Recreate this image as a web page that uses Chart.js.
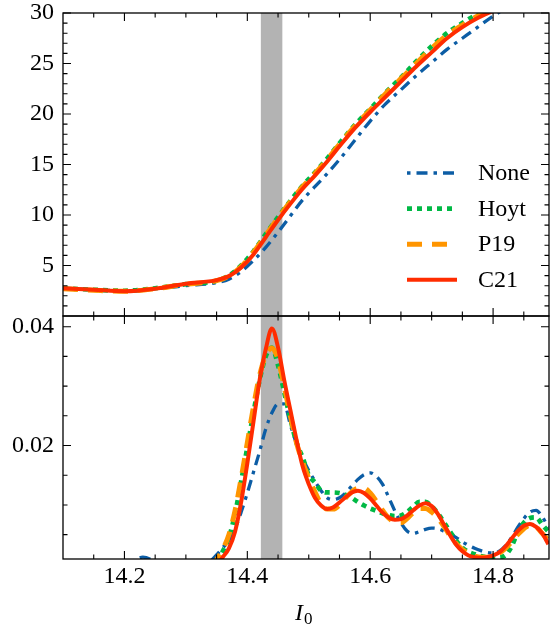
<!DOCTYPE html>
<html>
<head>
<meta charset="utf-8">
<script src="https://cdn.jsdelivr.net/npm/chart.js@4.4.0/dist/chart.umd.min.js"></script>
<style>
  body { margin: 0; background: #fff; }
</style>
</head>
<body>
<canvas id="chart" width="551" height="625"></canvas>
<script>
// upper panel: sampled curves
const xTop = [14.10, 14.15, 14.20, 14.25, 14.30, 14.35, 14.37, 14.39, 14.41, 14.43, 14.45, 14.47, 14.49, 14.51,
  14.53, 14.55, 14.575, 14.60, 14.625, 14.65, 14.675, 14.70, 14.725, 14.75, 14.775, 14.80, 14.85, 14.89];
const noneTop = [2.75, 2.6, 2.5, 2.7, 3.0, 3.3, 3.65, 4.4, 5.5, 6.8, 8.3, 9.9, 11.5, 12.8,
  14.1, 15.5, 17.4, 19.3, 21.0, 22.4, 23.8, 25.1, 26.4, 27.5, 28.6, 29.7, 31.5, 32.8];
const hoytTop = [2.75, 2.6, 2.5, 2.75, 3.15, 3.5, 4.0, 5.0, 6.4, 8.1, 9.8, 11.4, 12.9, 14.2,
  15.6, 17.1, 18.9, 20.5, 22.1, 23.6, 25.2, 26.7, 28.0, 29.0, 29.9, 30.6, 31.6, 32.3];
const p19Top = [2.7, 2.55, 2.45, 2.7, 3.15, 3.5, 3.95, 4.9, 6.3, 8.0, 9.7, 11.3, 12.8, 14.1,
  15.5, 17.0, 18.8, 20.4, 22.0, 23.5, 25.0, 26.5, 27.8, 28.8, 29.7, 30.4, 31.4, 32.1];
const c21Top = [2.75, 2.6, 2.45, 2.7, 3.2, 3.55, 3.95, 4.8, 6.1, 7.8, 9.5, 11.1, 12.6, 13.9,
  15.3, 16.8, 18.6, 20.2, 21.7, 23.2, 24.7, 26.1, 27.5, 28.6, 29.5, 30.2, 31.2, 31.9];

// lower panel
const xBottom = [14.10, 14.15, 14.20, 14.23, 14.26, 14.30, 14.33,
  14.34, 14.35, 14.36, 14.37, 14.38, 14.39, 14.40, 14.41, 14.42, 14.43,
  14.44, 14.45, 14.46, 14.47, 14.48, 14.49, 14.50, 14.51, 14.52, 14.53,
  14.54, 14.55, 14.56, 14.57, 14.58, 14.59, 14.60, 14.61, 14.62, 14.63,
  14.64, 14.65, 14.66, 14.67, 14.68, 14.69, 14.70, 14.71, 14.72, 14.73,
  14.74, 14.75, 14.76, 14.77, 14.78, 14.79, 14.80, 14.81, 14.82, 14.83,
  14.84, 14.85, 14.86, 14.87, 14.88, 14.89];
const noneBottom = [-0.0020, -0.0012, -0.0002, 0.0012, -0.0001, -0.0015, -0.0004,
  0.0005, 0.0016, 0.0028, 0.0040, 0.0060, 0.0088, 0.0120, 0.0155, 0.0190, 0.0228,
  0.0255, 0.0270, 0.0270, 0.0235, 0.0203, 0.0178, 0.0158, 0.0140, 0.0124, 0.0112,
  0.0109, 0.0112, 0.0120, 0.0132, 0.0143, 0.0151, 0.0154, 0.0148, 0.0135, 0.0113,
  0.0090, 0.0070, 0.0056, 0.0052, 0.0055, 0.0059, 0.0061, 0.0060, 0.0056, 0.0051,
  0.0045, 0.0038, 0.0032, 0.0027, 0.0023, 0.0020, 0.0019, 0.0022, 0.0031, 0.0045,
  0.0062, 0.0077, 0.0088, 0.0091, 0.0080, 0.0062];
const hoytBottom = [-0.0015, -0.0010, -0.0006, -0.0003, 0.0004, -0.0008, -0.0012,
  -0.0006, 0.0005, 0.0022, 0.0045, 0.0085, 0.0140, 0.0197, 0.0255, 0.0310, 0.0350,
  0.0365, 0.0335, 0.0290, 0.0245, 0.0205, 0.0180, 0.0150, 0.0138, 0.0124, 0.0121,
  0.0121, 0.0120, 0.0117, 0.0112, 0.0105, 0.0099, 0.0094, 0.0090, 0.0086, 0.0083,
  0.0081, 0.0082, 0.0088, 0.0097, 0.0105, 0.0105, 0.0098, 0.0086, 0.0071, 0.0055,
  0.0040, 0.0028, 0.0021, 0.0017, 0.0014, 0.0012, 0.0011, 0.0012, 0.0015, 0.0030,
  0.0054, 0.0070, 0.0078, 0.0079, 0.0067, 0.0055];
const p19Bottom = [-0.0012, -0.0008, -0.0005, -0.0004, 0.0000, -0.0006, -0.0010,
  -0.0004, 0.0008, 0.0025, 0.0050, 0.0090, 0.0145, 0.0205, 0.0265, 0.0318, 0.0352,
  0.0364, 0.0345, 0.0300, 0.0250, 0.0205, 0.0172, 0.0145, 0.0122, 0.0102, 0.0093,
  0.0093, 0.0100, 0.0112, 0.0122, 0.0128, 0.0128, 0.0120, 0.0106, 0.0091, 0.0078,
  0.0071, 0.0070, 0.0077, 0.0087, 0.0094, 0.0094, 0.0088, 0.0078, 0.0064, 0.0048,
  0.0035, 0.0025, 0.0018, 0.0014, 0.0012, 0.0012, 0.0014, 0.0019, 0.0027, 0.0038,
  0.0050, 0.0060, 0.0066, 0.0063, 0.0052, 0.0040];
const c21Bottom = [-0.0010, -0.0007, -0.0005, -0.0004, -0.0004, -0.0008, -0.0014,
  -0.0012, -0.0002, 0.0012, 0.0027, 0.0055, 0.0105, 0.0170, 0.0240, 0.0310, 0.0362,
  0.0397, 0.0365, 0.0310, 0.0260, 0.0210, 0.0165, 0.0135, 0.0112, 0.0099, 0.0093,
  0.0096, 0.0104, 0.0113, 0.0121, 0.0124, 0.0120, 0.0111, 0.0099, 0.0087, 0.0079,
  0.0075, 0.0076, 0.0082, 0.0091, 0.0099, 0.0103, 0.0098, 0.0085, 0.0067, 0.0049,
  0.0033, 0.0022, 0.0015, 0.0012, 0.0011, 0.0012, 0.0015, 0.0020, 0.0030, 0.0043,
  0.0056, 0.0065, 0.0068, 0.0063, 0.0052, 0.0034];

const xTicks = [14.2, 14.4, 14.6, 14.8];
const yTopTicks = [5, 10, 15, 20, 25, 30];
const yBottomTicks = [0.02, 0.04];
const band = [14.422, 14.457];

const series = [
  { label: 'None', top: noneTop, bottom: noneBottom, color: '#0C5DA5', width: 3.3, dash: [11, 6, 3.5, 6], key: [3.5, 6, 11, 6], order: 4 },
  { label: 'Hoyt', top: hoytTop, bottom: hoytBottom, color: '#00B945', width: 4.7, dash: [5, 5], key: [5, 5], order: 3 },
  { label: 'P19', top: p19Top, bottom: p19Bottom, color: '#FF9500', width: 5, dash: [15, 10], key: [15, 10], order: 2 },
  { label: 'C21', top: c21Top, bottom: c21Bottom, color: '#FF2C00', width: 4, dash: [], key: [], order: 1 }
];

const serif = '"Liberation Serif", "Times New Roman", serif';
const tickFont = { family: serif, size: 24, lineHeight: 1 };

const datasets = [];
series.forEach(s => {
  const common = {
    label: s.label, borderColor: s.color, borderWidth: s.width, borderDash: s.dash,
    borderJoinStyle: 'round', cubicInterpolationMode: 'monotone', pointRadius: 0,
    fill: false, clip: 0, order: s.order
  };
  datasets.push(Object.assign({ yAxisID: 'yTop', data: xTop.map((x, i) => ({ x: x, y: s.top[i] })) }, common));
  datasets.push(Object.assign({ yAxisID: 'yBot', data: xBottom.map((x, i) => ({ x: x, y: s.bottom[i] })) }, common));
});

const panels = [
  { id: 'yTop', major: yTopTicks, step: 1 },
  { id: 'yBot', major: yBottomTicks, step: 0.005 }
];

const isMajor = (list, v) => list.some(m => Math.abs(m - v) < 1e-9);

// keep the label overhang from pushing the plot area around
const fixWidth = w => s => {
  s.width = w;
  s.paddingTop = 0; s.paddingBottom = 0;
};

// grey band, spines, inward ticks, legend and axis title
const decor = {
  id: 'decor',
  beforeDatasetsDraw(chart) {
    const { ctx, chartArea, scales } = chart;
    const x0 = scales.x.getPixelForValue(band[0]);
    const x1 = scales.x.getPixelForValue(band[1]);
    ctx.save();
    ctx.fillStyle = '#b3b3b3';
    ctx.fillRect(x0, chartArea.top, x1 - x0, chartArea.bottom - chartArea.top);
    ctx.restore();
  },
  afterDatasetsDraw(chart) {
    const { ctx, scales, chartArea } = chart;
    const xs = scales.x;
    ctx.save();
    ctx.strokeStyle = '#000';

    panels.forEach(p => {
      const ys = scales[p.id];
      const top = ys.top, bottom = ys.bottom, left = xs.left, right = xs.right;

      ctx.lineWidth = 1.1;
      const tickX = (v, len) => {
        const px = xs.getPixelForValue(v);
        ctx.beginPath();
        ctx.moveTo(px, top); ctx.lineTo(px, top + len);
        ctx.moveTo(px, bottom); ctx.lineTo(px, bottom - len);
        ctx.stroke();
      };
      xTicks.forEach(v => tickX(v, 8));
      for (let k = 1; k < 16; k++) {
        const v = 14.1 + 0.05 * k;
        if (v < xs.max && !isMajor(xTicks, v)) tickX(v, 4.5);
      }

      const tickY = (v, len) => {
        const py = ys.getPixelForValue(v);
        ctx.beginPath();
        ctx.moveTo(left, py); ctx.lineTo(left + len, py);
        ctx.moveTo(right, py); ctx.lineTo(right - len, py);
        ctx.stroke();
      };
      p.major.forEach(v => tickY(v, 8));
      for (let k = 1; k * p.step < ys.max; k++) {
        const v = k * p.step;
        if (v > ys.min && !isMajor(p.major, v)) tickY(v, 4.5);
      }

      ctx.lineWidth = 1.3;
      ctx.strokeRect(left, top, right - left, bottom - top);
    });

    // legend in the upper panel
    const lx0 = chartArea.right - 142, lx1 = chartArea.right - 92, tx = chartArea.right - 71;
    ctx.font = '24px ' + serif;
    ctx.textBaseline = 'middle';
    ctx.fillStyle = '#000';
    series.forEach((s, i) => {
      const y = chartArea.top + 160 + i * 35.6;
      ctx.beginPath();
      ctx.strokeStyle = s.color;
      ctx.lineWidth = s.width;
      ctx.setLineDash(s.key);
      ctx.moveTo(lx0, y); ctx.lineTo(lx1, y);
      ctx.stroke();
      ctx.setLineDash([]);
      ctx.fillText(s.label, tx, y + 1);
    });

    // x axis title: I with subscript 0
    const cx = (xs.left + xs.right) / 2;
    ctx.textBaseline = 'alphabetic';
    ctx.textAlign = 'left';
    ctx.font = 'italic 24px ' + serif;
    const wI = ctx.measureText('I').width;
    ctx.fillText('I', cx - 11, 620);
    ctx.font = '17px ' + serif;
    ctx.fillText('0', cx - 11 + wI + 1, 624);
    ctx.restore();
  }
};

new Chart(document.querySelector('#chart').getContext('2d'), {
  type: 'line',
  data: { datasets: datasets },
  options: {
    responsive: false,
    animation: false,
    devicePixelRatio: 1,
    layout: { padding: { top: 13, right: 2, left: 0, bottom: 0 } },
    plugins: { legend: { display: false }, tooltip: { enabled: false } },
    scales: {
      x: {
        type: 'linear', min: 14.1, max: 14.891,
        grid: { display: false, drawTicks: false }, border: { display: false },
        afterBuildTicks: s => { s.ticks = xTicks.map(v => ({ value: v })); },
        afterFit: s => { s.height = 66; s.paddingLeft = 0; s.paddingRight = 0; },
        ticks: { font: tickFont, color: '#000', padding: 6, maxRotation: 0, autoSkip: false, callback: v => v.toFixed(1) }
      },
      yBot: {
        type: 'linear', position: 'left', stack: 'panels', stackWeight: 243,
        min: 0.0009, max: 0.0418,
        grid: { display: false, drawTicks: false }, border: { display: false },
        afterBuildTicks: s => { s.ticks = yBottomTicks.map(v => ({ value: v })); },
        afterFit: fixWidth(63),
        ticks: { font: tickFont, color: '#000', padding: 9, callback: v => v.toFixed(2) }
      },
      yTop: {
        type: 'linear', position: 'left', stack: 'panels', stackWeight: 303,
        min: 0, max: 30,
        grid: { display: false, drawTicks: false }, border: { display: false },
        afterBuildTicks: s => { s.ticks = yTopTicks.map(v => ({ value: v })); },
        afterFit: fixWidth(63),
        ticks: { font: tickFont, color: '#000', padding: 9, callback: v => String(v) }
      }
    }
  },
  plugins: [decor]
});
</script>
</body>
</html>
